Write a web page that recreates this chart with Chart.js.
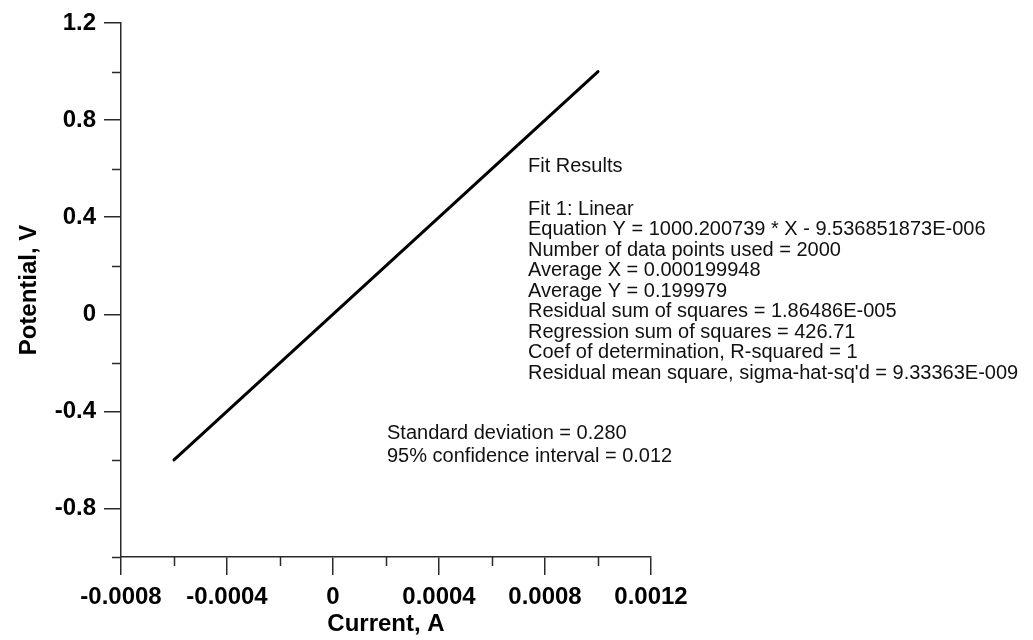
<!DOCTYPE html>
<html>
<head>
<meta charset="utf-8">
<script src="https://cdn.jsdelivr.net/npm/chart.js@4/dist/chart.umd.min.js"></script>
<style>
  html, body { margin: 0; padding: 0; background: #ffffff; }
  #wrap { width: 1033px; height: 640px; position: relative; }
</style>
</head>
<body>
<div id="wrap"><canvas id="chart" width="1033" height="640"></canvas></div>
<script>
// Measured I-V line (current in A, potential in V)
const currents = [-0.0006, 0.0010];
const potentials = [-0.6, 1.0];

// Axis ranges and labelled ticks
const xRange = [-0.0008, 0.0012];
const xStep = 0.0002;
const xTickLabels = ['-0.0008', '-0.0004', '0', '0.0004', '0.0008', '0.0012'];
const yRange = [-1.0, 1.2];
const yStep = 0.2;
const yTickLabels = ['-0.8', '-0.4', '0', '0.4', '0.8', '1.2'];

// Regression summary text
const fitTitle = 'Fit Results';
const fitLines = [
  'Fit 1: Linear',
  'Equation Y = 1000.200739 * X - 9.536851873E-006',
  'Number of data points used = 2000',
  'Average X = 0.000199948',
  'Average Y = 0.199979',
  'Residual sum of squares = 1.86486E-005',
  'Regression sum of squares = 426.71',
  'Coef of determination, R-squared = 1',
  "Residual mean square, sigma-hat-sq'd = 9.33363E-009"
];
const statLines = [
  'Standard deviation = 0.280',
  '95% confidence interval = 0.012'
];

const FONT = '"Liberation Sans", Arial, Helvetica, sans-serif';
const AXIS_COLOR = '#2a2a2a';

function labelFor(value, labels) {
  for (const s of labels) {
    if (Math.abs(parseFloat(s) - value) < 1e-9) return s;
  }
  return '';
}
function isMajor(value, labels) {
  return labelFor(value, labels) !== '';
}

// Short minor tick marks at the unlabelled positions
const minorTicks = {
  id: 'minorTicks',
  afterDraw(chart) {
    const ctx = chart.ctx;
    const xs = chart.scales.x, ys = chart.scales.y;
    ctx.save();
    ctx.strokeStyle = AXIS_COLOR;
    ctx.lineWidth = 1.5;
    ctx.beginPath();
    xs.ticks.forEach(t => {
      if (!isMajor(t.value, xTickLabels)) {
        const px = Math.round(xs.getPixelForValue(t.value)) + 0.5;
        ctx.moveTo(px, xs.top);
        ctx.lineTo(px, xs.top + 9);
      }
    });
    ys.ticks.forEach(t => {
      if (!isMajor(t.value, yTickLabels)) {
        const py = Math.round(ys.getPixelForValue(t.value)) + 0.5;
        ctx.moveTo(ys.right, py);
        ctx.lineTo(ys.right - 9, py);
      }
    });
    ctx.stroke();
    ctx.restore();
  }
};

// Fit summary text blocks
const fitText = {
  id: 'fitText',
  afterDraw(chart) {
    const ctx = chart.ctx;
    const area = chart.chartArea;
    ctx.save();
    ctx.fillStyle = '#111';
    ctx.font = '20px ' + FONT;
    ctx.textAlign = 'left';
    ctx.textBaseline = 'middle';
    const bx = area.left + 407;
    ctx.fillText(fitTitle, bx, area.top + 143);
    fitLines.forEach((s, i) => ctx.fillText(s, bx, area.top + 186 + i * 20.5));
    const sx = area.left + 266;
    statLines.forEach((s, i) => ctx.fillText(s, sx, area.top + 410 + i * 23.5));
    ctx.restore();
  }
};

new Chart(document.getElementById('chart'), {
  type: 'scatter',
  data: {
    datasets: [{
      data: currents.map((c, i) => ({ x: c, y: potentials[i] })),
      showLine: true,
      borderColor: '#000',
      borderWidth: 3,
      borderCapStyle: 'round',
      pointRadius: 0,
      fill: false
    }]
  },
  options: {
    responsive: false,
    animation: false,
    layout: { padding: { left: 0, top: 23, right: 382, bottom: 0 } },
    plugins: { legend: { display: false }, tooltip: { enabled: false } },
    scales: {
      x: {
        type: 'linear',
        min: xRange[0], max: xRange[1],
        afterFit(scale) { scale.height = 83; },
        ticks: {
          stepSize: xStep,
          autoSkip: false,
          maxRotation: 0,
          padding: 8,
          color: '#000',
          font: { family: FONT, size: 24, weight: 'bold' },
          callback: v => labelFor(v, xTickLabels)
        },
        grid: {
          drawOnChartArea: false,
          drawTicks: true,
          tickLength: 18,
          lineWidth: 1.5,
          color: c => (c.tick && isMajor(c.tick.value, xTickLabels)) ? AXIS_COLOR : 'rgba(0,0,0,0)'
        },
        border: { display: true, color: AXIS_COLOR, width: 1.5 },
        title: {
          display: true,
          text: 'Current, A',
          color: '#000',
          font: { family: FONT, size: 24, weight: 'bold' },
          padding: { top: 0, bottom: 1 }
        }
      },
      y: {
        type: 'linear',
        min: yRange[0], max: yRange[1],
        afterFit(scale) { scale.width = 121; },
        ticks: {
          stepSize: yStep,
          autoSkip: false,
          padding: 8,
          color: '#000',
          font: { family: FONT, size: 24, weight: 'bold' },
          callback: v => labelFor(v, yTickLabels)
        },
        grid: {
          drawOnChartArea: false,
          drawTicks: true,
          tickLength: 17,
          lineWidth: 1.5,
          color: c => (c.tick && isMajor(c.tick.value, yTickLabels)) ? AXIS_COLOR : 'rgba(0,0,0,0)'
        },
        border: { display: true, color: AXIS_COLOR, width: 1.5 },
        title: {
          display: true,
          text: 'Potential, V',
          color: '#000',
          font: { family: FONT, size: 24, weight: 'bold' },
          padding: { top: 15, bottom: 0 }
        }
      }
    }
  },
  plugins: [minorTicks, fitText]
});
</script>
</body>
</html>
